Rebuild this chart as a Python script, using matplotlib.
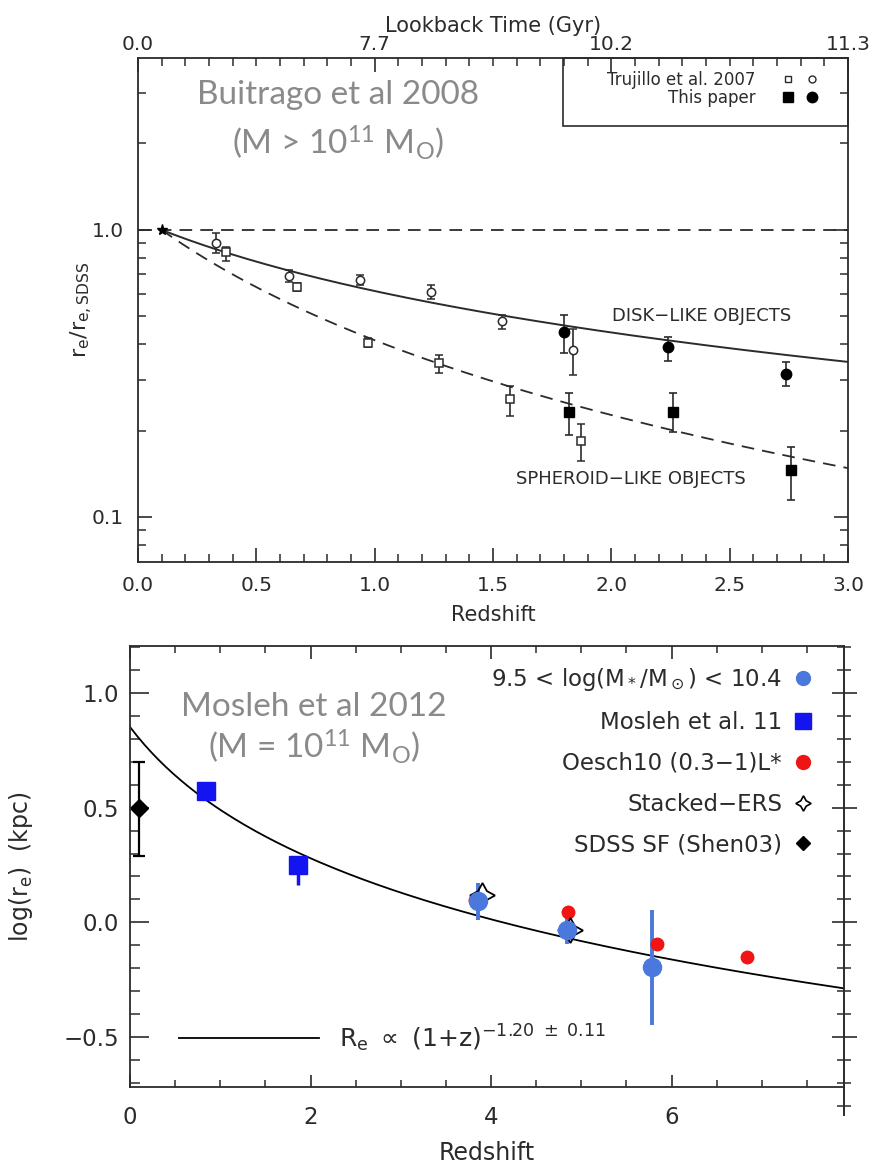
"""
Size evolution of massive galaxies with redshift: two literature panels
"""
import numpy as np
import matplotlib.pyplot as plt
from matplotlib.lines import Line2D
from matplotlib.legend_handler import HandlerTuple
from matplotlib.patches import Rectangle
from matplotlib.ticker import MultipleLocator, FixedLocator, NullFormatter, FuncFormatter

plt.rcParams['font.family'] = ['DejaVu Sans']
plt.rcParams['mathtext.default'] = 'regular'
plt.rcParams['axes.unicode_minus'] = True

#################### Buitrago et al 2008 panel ####################
lookback_z = [0.0, 1.0, 2.0, 3.0]
lookback_labels = ['0.0', '7.7', '10.2', '11.3']

# Trujillo et al. 2007, disk-like (open circles)
tru_disk_z = [0.33, 0.64, 0.94, 1.24, 1.54, 1.84]
tru_disk_r = [0.90, 0.69, 0.67, 0.61, 0.48, 0.383]
tru_disk_lo = [0.070, 0.030, 0.025, 0.035, 0.030, 0.070]
tru_disk_hi = [0.075, 0.036, 0.025, 0.034, 0.027, 0.067]

# this paper, disk-like (filled circles)
new_disk_z = [1.80, 2.24, 2.74]
new_disk_r = [0.44, 0.39, 0.316]
new_disk_lo = [0.066, 0.040, 0.031]
new_disk_hi = [0.067, 0.035, 0.032]

# Trujillo et al. 2007, spheroid-like (open squares)
tru_sph_z = [0.37, 0.67, 0.97, 1.27, 1.57, 1.87]
tru_sph_r = [0.84, 0.634, 0.405, 0.343, 0.257, 0.184]
tru_sph_lo = [0.060, 0.020, 0.015, 0.025, 0.032, 0.027]
tru_sph_hi = [0.033, 0.020, 0.015, 0.025, 0.028, 0.027]

# this paper, spheroid-like (filled squares)
new_sph_z = [1.82, 2.26, 2.76]
new_sph_r = [0.232, 0.233, 0.146]
new_sph_lo = [0.039, 0.036, 0.031]
new_sph_hi = [0.038, 0.037, 0.030]

# SDSS reference point and (1+z)^alpha fits
ref_z, ref_r = 0.1, 1.0
disk_slope = -0.82
sph_slope = -1.48

#################### Mosleh et al 2012 panel ####################
sdss_z = [0.10]
sdss_logr = [0.50]
sdss_err_lo = [0.21]
sdss_err_hi = [0.20]

mosleh11_z = [0.84, 1.86]
mosleh11_logr = [0.574, 0.252]
mosleh11_err_lo = [0.02, 0.09]
mosleh11_err_hi = [0.02, 0.02]

massbin_z = [3.86, 4.84, 5.78]
massbin_logr = [0.092, -0.035, -0.196]
massbin_err = [0.08, 0.06, 0.25]

oesch_z = [3.82, 4.85, 5.84, 6.83]
oesch_logr = [0.097, 0.043, -0.096, -0.153]

ers_z = [3.90, 4.88]
ers_logr = [0.12, -0.035]

fit_norm = 0.852
fit_slope = -1.20

DARK = '#2b2b2b'
GREY_TXT = '#8a8a8a'
BLUE_SQ = '#1414f0'
BLUE_CI = '#4a78dc'
RED = '#f01414'

one_decimal = FuncFormatter(lambda v, pos: f'{v:.1f}'.replace('-', '\u2212'))

W, H = 872, 1165
fig = plt.figure(figsize=(W / 100, H / 100), dpi=100)

###########################################################
# top panel
ax1 = fig.add_axes([138 / W, 1 - 562 / H, 710 / W, 504 / H])
ax1.set_yscale('log')
ax1.set_xlim(0, 3.0)
ax1.set_ylim(0.0697, 3.97)

zz = np.linspace(ref_z, 3.0, 200)
ax1.plot([0, 3.0], [ref_r, ref_r], ls=(0, (7, 4.5)), color=DARK, lw=1.3)
ax1.plot(zz, ref_r * ((1 + zz) / (1 + ref_z)) ** disk_slope, color=DARK, lw=1.4)
ax1.plot(zz, ref_r * ((1 + zz) / (1 + ref_z)) ** sph_slope,
         ls=(0, (7, 4.5)), color=DARK, lw=1.3)
ax1.plot([ref_z], [ref_r], marker='*', color='black', ms=8, ls='none')

ebar = dict(ls='none', ecolor=DARK, elinewidth=1.2, capsize=3, capthick=1.2)
ax1.errorbar(tru_disk_z, tru_disk_r, yerr=[tru_disk_lo, tru_disk_hi], marker='o',
             ms=6, mfc='white', mec=DARK, mew=1.1, **ebar)
ax1.errorbar(tru_sph_z, tru_sph_r, yerr=[tru_sph_lo, tru_sph_hi], marker='s',
             ms=6, mfc='white', mec=DARK, mew=1.1, **ebar)
ax1.errorbar(new_disk_z, new_disk_r, yerr=[new_disk_lo, new_disk_hi], marker='o',
             ms=7.5, mfc='black', mec='black', **ebar)
ax1.errorbar(new_sph_z, new_sph_r, yerr=[new_sph_lo, new_sph_hi], marker='s',
             ms=7.5, mfc='black', mec='black', **ebar)

ax1.text(0.794, 0.488, 'DISK\u2212LIKE OBJECTS', transform=ax1.transAxes,
         ha='center', va='center', fontsize=13, color=DARK)
ax1.text(0.694, 0.165, 'SPHEROID\u2212LIKE OBJECTS', transform=ax1.transAxes,
         ha='center', va='center', fontsize=13, color=DARK)

ax1.text(0.282, 0.927, 'Buitrago et al 2008', transform=ax1.transAxes,
         ha='center', va='center', fontsize=24, color=GREY_TXT, family='Lato')
ax1.text(0.282, 0.831, r'(M > 10$^{11}$ M$_{O}$)', transform=ax1.transAxes,
         ha='center', va='center', fontsize=24, color=GREY_TXT, family='Lato')

# legend box in the upper right corner
ax1.add_patch(Rectangle((0.599, 0.865), 0.401, 0.135, transform=ax1.transAxes,
                        fill=False, ec=DARK, lw=1.2, clip_on=False))
h_tru_sq = Line2D([], [], ls='none', marker='s', ms=5, mfc='white', mec=DARK, mew=1.0)
h_tru_ci = Line2D([], [], ls='none', marker='o', ms=5, mfc='white', mec=DARK, mew=1.0)
h_new_sq = Line2D([], [], ls='none', marker='s', ms=7, mfc='black', mec='black')
h_new_ci = Line2D([], [], ls='none', marker='o', ms=7.5, mfc='black', mec='black')
ax1.legend([(h_tru_sq, h_tru_ci), (h_new_sq, h_new_ci)],
           ['Trujillo et al. 2007', 'This paper'],
           handler_map={tuple: HandlerTuple(ndivide=None, pad=0)},
           markerfirst=False, frameon=False, loc='upper right',
           bbox_to_anchor=(0.967, 0.975), borderaxespad=0, borderpad=0,
           fontsize=12, handlelength=2.9, handletextpad=1.25, labelspacing=0.0,
           labelcolor=DARK)

for side in ax1.spines.values():
    side.set_color(DARK)
    side.set_linewidth(1.3)
ax1.xaxis.set_major_locator(MultipleLocator(0.5))
ax1.xaxis.set_minor_locator(MultipleLocator(0.1))
ax1.xaxis.set_major_formatter(one_decimal)
ax1.yaxis.set_major_locator(FixedLocator([0.1, 1.0]))
ax1.yaxis.set_major_formatter(one_decimal)
ax1.yaxis.set_minor_locator(FixedLocator([0.08, 0.09, 0.2, 0.3, 0.4, 0.5, 0.6,
                                          0.7, 0.8, 0.9, 2, 3]))
ax1.yaxis.set_minor_formatter(NullFormatter())
ax1.tick_params(which='both', direction='in', right=True, color=DARK,
                labelsize=14.5, labelcolor=DARK, pad=10)
ax1.tick_params(which='major', length=10, width=1.2)
ax1.tick_params(which='minor', length=6, width=1.1)
ax1.set_xlabel('Redshift', fontsize=15, color=DARK, labelpad=7)
ax1.set_ylabel(r'r$_e$/r$_{e,SDSS}$', fontsize=16, color=DARK, labelpad=-2)

ax1t = ax1.twiny()
ax1t.set_xlim(ax1.get_xlim())
ax1t.set_xticks(lookback_z)
ax1t.set_xticklabels(lookback_labels)
ax1t.xaxis.set_minor_locator(MultipleLocator(0.1))
ax1t.tick_params(which='both', direction='in', color=DARK, labelsize=14.5,
                 labelcolor=DARK, pad=3)
ax1t.tick_params(which='major', length=10, width=1.2)
ax1t.tick_params(which='minor', length=6, width=1.1)
ax1t.set_xlabel('Lookback Time (Gyr)', fontsize=15, color=DARK, labelpad=2)
for side in ax1t.spines.values():
    side.set_visible(False)

###########################################################
# bottom panel
ax2 = fig.add_axes([130 / W, 1 - 1087 / H, 714 / W, 441 / H])
ax2.set_xlim(0, 7.91)
ax2.set_ylim(-0.718, 1.205)

zfit = np.linspace(0, 7.91, 200)
fit_line, = ax2.plot(zfit, fit_norm + fit_slope * np.log10(1 + zfit), color='black',
                     lw=1.3, label=r'R$_e$ $\propto$ (1+z)$^{-1.20\ \pm\ 0.11}$')

ax2.errorbar(sdss_z, sdss_logr, yerr=[sdss_err_lo, sdss_err_hi], ls='none',
             marker='D', ms=9, color='black', elinewidth=1.6, capsize=4, capthick=1.6)
ax2.errorbar(mosleh11_z, mosleh11_logr, yerr=[mosleh11_err_lo, mosleh11_err_hi],
             ls='none', marker='s', ms=13, color=BLUE_SQ, elinewidth=2.5)
ax2.errorbar(massbin_z, massbin_logr, yerr=massbin_err, ls='none', marker='o',
             ms=13, color=BLUE_CI, elinewidth=2.8)
ax2.plot(oesch_z, oesch_logr, ls='none', marker='o', ms=9, color=RED)
ax2.plot(ers_z, ers_logr, ls='none', marker=(4, 1, 0), ms=18, mfc='none',
         mec='black', mew=1.3)

ax2.text(0.258, 0.862, 'Mosleh et al 2012', transform=ax2.transAxes,
         ha='center', va='center', fontsize=24, color=GREY_TXT, family='Lato')
ax2.text(0.258, 0.771, r'(M = 10$^{11}$ M$_{O}$)', transform=ax2.transAxes,
         ha='center', va='center', fontsize=24, color=GREY_TXT, family='Lato')

handles = [
    Line2D([], [], ls='none', marker='o', ms=10, color=BLUE_CI),
    Line2D([], [], ls='none', marker='s', ms=11, color=BLUE_SQ),
    Line2D([], [], ls='none', marker='o', ms=10, color=RED),
    Line2D([], [], ls='none', marker=(4, 1, 0), ms=11, mfc='none', mec='black', mew=1.2),
    Line2D([], [], ls='none', marker='D', ms=7, color='black'),
]
labels = [r'9.5 < log(M$_*$/M$_\odot$) < 10.4', 'Mosleh et al. 11',
          'Oesch10 (0.3\u22121)L*', 'Stacked\u2212ERS', 'SDSS SF (Shen03)']
leg = ax2.legend(handles, labels, markerfirst=False, frameon=False, loc='upper right',
                 bbox_to_anchor=(1 - 31 / 714, 1 - 20 / 441), borderaxespad=0,
                 borderpad=0, fontsize=16.5, handlelength=0.85, handletextpad=0.5,
                 labelspacing=0.78, labelcolor=DARK)
ax2.add_artist(leg)
ax2.legend([fit_line], [fit_line.get_label()], frameon=False, loc='center left',
           bbox_to_anchor=(49 / 714, 49 / 441), borderaxespad=0, borderpad=0,
           fontsize=18, handlelength=5.6, handletextpad=0.8, labelcolor=DARK)

ax2.spines['right'].set_visible(False)
for name in ('left', 'top', 'bottom'):
    ax2.spines[name].set_color(DARK)
    ax2.spines[name].set_linewidth(1.3)
ax2.xaxis.set_major_locator(MultipleLocator(2))
ax2.xaxis.set_minor_locator(MultipleLocator(0.5))
ax2.yaxis.set_major_locator(MultipleLocator(0.5))
ax2.yaxis.set_minor_locator(MultipleLocator(0.1))
ax2.yaxis.set_major_formatter(one_decimal)
ax2.tick_params(which='both', direction='in', top=True, color=DARK,
                labelsize=16.5, labelcolor=DARK, pad=14)
ax2.tick_params(axis='y', which='both', pad=8)
ax2.tick_params(axis='y', which='major', length=14, width=1.2)
ax2.tick_params(axis='y', which='minor', length=7, width=1.1)
ax2.tick_params(axis='x', which='major', length=9, width=1.2)
ax2.tick_params(axis='x', which='minor', length=5, width=1.1)
ax2.set_xlabel('Redshift', fontsize=17, color=DARK, labelpad=8)
ax2.set_ylabel('log(r$_e$)  (kpc)', fontsize=17, color=DARK, labelpad=20)

# right-hand tick ruler, running a little below the panel
ax2r = fig.add_axes([844 / W, 1 - 1115 / H, 0.0005, 469 / H])
ax2r.set_ylim(-0.840, 1.205)
ax2r.patch.set_visible(False)
for name in ('right', 'top', 'bottom'):
    ax2r.spines[name].set_visible(False)
ax2r.spines['left'].set_color(DARK)
ax2r.spines['left'].set_linewidth(1.4)
ax2r.set_xticks([])
ax2r.yaxis.set_major_locator(MultipleLocator(0.5))
ax2r.yaxis.set_minor_locator(MultipleLocator(0.1))
ax2r.tick_params(which='both', direction='inout', labelleft=False, color=DARK)
ax2r.tick_params(which='major', length=18, width=1.2)
ax2r.tick_params(which='minor', length=10, width=1.1)

fig.savefig('out.png', dpi=100)
